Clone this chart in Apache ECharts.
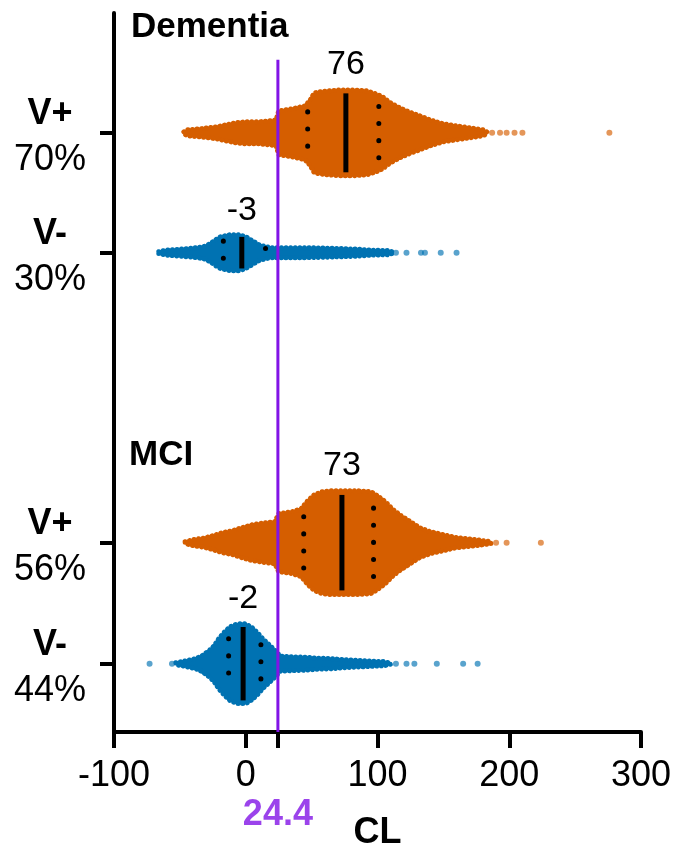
<!DOCTYPE html>
<html>
<head>
<meta charset="utf-8">
<script src="https://cdn.jsdelivr.net/npm/echarts@6.0.0/dist/echarts.min.js"></script>
<style>
  html, body { margin: 0; padding: 0; background: #fff; }
  #chart { width: 676px; height: 845px; }
</style>
</head>
<body>
<div id="chart"></div>
<script>
// swarm outlines: CL value and half-spread of the swarm (in row units)
var demPosCL = [-47, -44, -35, -28, -22, -15, -8, 0, 10, 18, 23, 25, 35, 45, 49, 52, 56, 62, 72, 82, 92, 99, 104, 110, 117, 124, 132, 140, 150, 160, 170, 180, 183];
var demPosSpread = [.008, .025, .033, .042, .05, .067, .083, .092, .092, .1, .108, .183, .2, .225, .275, .333, .342, .35, .358, .358, .35, .325, .3, .25, .208, .175, .142, .108, .075, .058, .042, .025, .008];
var demPosTail = [187, 193, 198, 204, 210, 276];

var demNegCL = [-66, -60, -50, -40, -32, -27, -23, -19, -12, -5, 0, 5, 10, 15, 20, 30, 45, 60, 75, 85, 95, 108, 112];
var demNegSpread = [.008, .021, .029, .038, .05, .075, .108, .133, .15, .15, .133, .1, .067, .05, .042, .042, .042, .038, .033, .029, .021, .017, .004];
var demNegTail = [114, 122, 133, 136, 148, 160];

var mciPosCL = [-46, -40, -32, -25, -18, -10, -3, 5, 15, 22, 25, 35, 42, 47, 52, 58, 65, 75, 85, 95, 100, 106, 112, 118, 125, 132, 140, 150, 160, 175, 186];
var mciPosSpread = [.008, .025, .038, .058, .083, .1, .125, .15, .167, .175, .242, .258, .283, .35, .4, .425, .433, .433, .433, .425, .392, .342, .275, .225, .175, .125, .092, .067, .042, .025, .008];
var mciPosTail = [190, 198, 224];

var mciNegCL = [-53, -45, -38, -33, -28, -24, -20, -16, -12, -6, 0, 5, 9, 13, 17, 21, 24, 26, 35, 45, 55, 65, 75, 90, 105, 110];
var mciNegSpread = [.008, .025, .042, .067, .108, .15, .217, .267, .308, .333, .333, .3, .258, .208, .167, .125, .092, .063, .058, .054, .046, .042, .033, .025, .017, .004];
var mciNegTail = [-73, -56, 114, 122, 128, 145, 165, 176];

var rows = [1, 2, 4.42, 5.43];
var rowNames = ['V+', 'V-', 'V+', 'V-'];
var rowPct = ['70%', '30%', '56%', '44%'];
var medians = [76, -3, 73, -2];
var q1 = [47, -17, 44, -13];
var q3 = [101, 15, 97, 11.5];
var cutoff = 24.4;
var xTicks = [-100, 0, 100, 200, 300];

var ORANGE = '#D55E00';
var BLUE = '#0072B2';
var PURPLE = '#8214E6';
var FONT = '"Liberation Sans", Arial, sans-serif';

var groups = [
  {cl: demPosCL, spread: demPosSpread, tail: demPosTail, color: ORANGE},
  {cl: demNegCL, spread: demNegSpread, tail: demNegTail, color: BLUE},
  {cl: mciPosCL, spread: mciPosSpread, tail: mciPosTail, color: ORANGE},
  {cl: mciNegCL, spread: mciNegSpread, tail: mciNegTail, color: BLUE}
];

function spreadAt(g, v) {
  for (var i = 1; i < g.cl.length; i++) {
    if (v <= g.cl[i]) {
      var t = (v - g.cl[i - 1]) / (g.cl[i] - g.cl[i - 1]);
      return g.spread[i - 1] + t * (g.spread[i] - g.spread[i - 1]);
    }
  }
  return 0;
}

function swarmRender(k) {
  var g = groups[k];
  var row = rows[k];
  return function (params, api) {
    var top = [], bottom = [];
    for (var i = 0; i < g.cl.length; i++) {
      top.push(api.coord([g.cl[i], row - g.spread[i]]));
      bottom.unshift(api.coord([g.cl[i], row + g.spread[i]]));
    }
    var kids = [{
      type: 'polygon',
      shape: {points: top.concat(bottom)},
      style: {fill: g.color, stroke: g.color, lineWidth: 5, lineDash: [0.1, 4.5], lineCap: 'round', lineJoin: 'round'}
    }];
    // median line
    var hm = spreadAt(g, medians[k]) * 0.92;
    var a = api.coord([medians[k], row - hm]);
    var b = api.coord([medians[k], row + hm]);
    kids.push({type: 'line', shape: {x1: a[0], y1: a[1], x2: b[0], y2: b[1]}, style: {stroke: '#000', lineWidth: 5}});
    // quartile lines (dotted)
    [q1[k], q3[k]].forEach(function (q) {
      var hq = spreadAt(g, q) * 0.7;
      var p1 = api.coord([q, row - hq]);
      var p2 = api.coord([q, row + hq]);
      kids.push({type: 'line', shape: {x1: p1[0], y1: p1[1], x2: p2[0], y2: p2[1]},
        style: {stroke: '#000', lineWidth: 5, lineDash: [0.1, 17], lineCap: 'round'}});
    });
    // median value label
    var lt = api.coord([medians[k], row - spreadAt(g, medians[k])]);
    kids.push({type: 'text', style: {text: String(medians[k]), x: lt[0], y: lt[1] - 25,
      align: 'center', verticalAlign: 'middle', fontSize: 34, fontFamily: FONT, fill: '#000'}});
    return {type: 'group', children: kids};
  };
}

var series = [];
groups.forEach(function (g, k) {
  series.push({
    type: 'custom',
    renderItem: swarmRender(k),
    data: [[medians[k], rows[k]]],
    z: 2
  });
  series.push({
    type: 'scatter',
    data: g.tail.map(function (v) { return [v, rows[k]]; }),
    symbolSize: 6,
    itemStyle: {color: g.color, opacity: 0.65},
    z: 2
  });
});

series.push({
  type: 'line',
  data: [[cutoff, 0.39], [cutoff, 6]],
  showSymbol: false,
  lineStyle: {color: PURPLE, width: 3},
  z: 5
});
series.push({
  type: 'scatter',
  data: [[cutoff, 6]],
  symbolSize: 1,
  itemStyle: {color: 'rgba(0,0,0,0)'},
  label: {show: true, position: 'inside', offset: [0, 83], formatter: String(cutoff),
    color: PURPLE, fontSize: 36, fontWeight: 'bold', fontFamily: FONT},
  z: 5
});

var chart = echarts.init(document.getElementById('chart'));
chart.setOption({
  animation: false,
  title: [
    {text: 'Dementia', left: 131, top: 10, padding: 0,
      textStyle: {fontSize: 35, fontWeight: 'bold', color: '#000', fontFamily: FONT}},
    {text: 'MCI', left: 129, top: 438, padding: 0,
      textStyle: {fontSize: 35, fontWeight: 'bold', color: '#000', fontFamily: FONT}}
  ],
  grid: {left: 114, right: 35, top: 13, bottom: 113, containLabel: false, outerBoundsMode: 'none'},
  xAxis: {
    type: 'value', min: -100, max: 300, interval: 100, position: 'bottom',
    name: 'CL', nameLocation: 'middle', nameGap: 83,
    nameTextStyle: {fontSize: 36, fontWeight: 'bold', color: '#000', fontFamily: FONT},
    splitLine: {show: false},
    axisLine: {show: true, onZero: false, lineStyle: {color: '#000', width: 4}},
    axisTick: {show: true, length: 16, lineStyle: {color: '#000', width: 4},
      customValues: [-100, 0, cutoff, 100, 200, 300]},
    axisLabel: {customValues: xTicks, margin: 26, fontSize: 36, color: '#000', fontFamily: FONT}
  },
  yAxis: {
    type: 'value', min: 0, max: 6, inverse: true, position: 'left',
    splitLine: {show: false},
    axisLine: {show: true, onZero: false, lineStyle: {color: '#000', width: 4}},
    axisTick: {show: true, length: 14, lineStyle: {color: '#000', width: 4}, customValues: rows},
    axisLabel: {
      customValues: rows, margin: 64, align: 'center', padding: [8, 0, 0, 0],
      formatter: function (v) {
        for (var i = 0; i < rows.length; i++) {
          if (Math.abs(rows[i] - v) < 1e-6) return '{b|' + rowNames[i] + '}\n{n|' + rowPct[i] + '}';
        }
        return '';
      },
      rich: {
        b: {fontSize: 36, fontWeight: 'bold', color: '#000', fontFamily: FONT, lineHeight: 46, align: 'center'},
        n: {fontSize: 36, color: '#000', fontFamily: FONT, lineHeight: 46, align: 'center'}
      }
    }
  },
  series: series
});
</script>
</body>
</html>
